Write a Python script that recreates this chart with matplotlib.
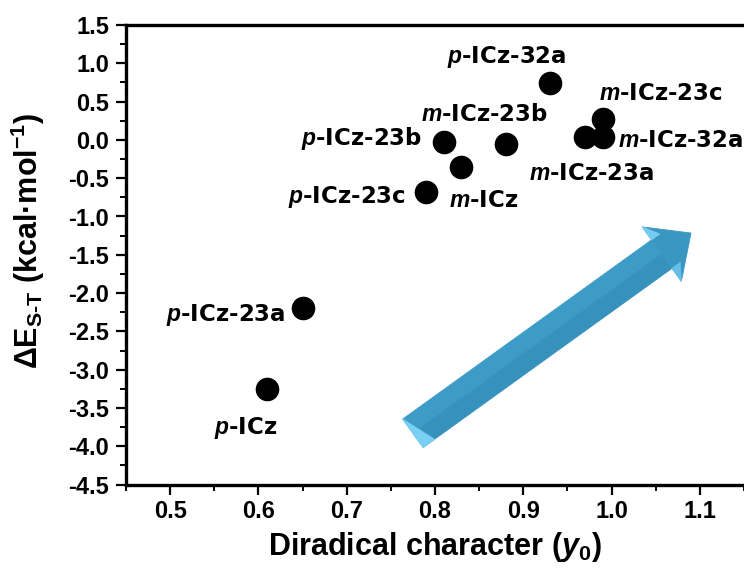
import numpy as np
import matplotlib
matplotlib.use("Agg")
import matplotlib.pyplot as plt
from matplotlib.patches import Polygon
from matplotlib.ticker import MultipleLocator

plt.rcParams.update({
    "font.family": ["Liberation Sans", "DejaVu Sans"],
    "font.weight": "bold",
    "mathtext.fontset": "custom",
    "mathtext.rm": "Liberation Sans:bold",
    "mathtext.bf": "Liberation Sans:bold",
    "mathtext.it": "Liberation Sans:italic:bold",
    "mathtext.bfit": "Liberation Sans:italic:bold",
})

# Diradical character y0 vs singlet-triplet gap
names = ["p-ICz-32a", "m-ICz-23c", "m-ICz-32a", "m-ICz-23a", "m-ICz-23b",
         "p-ICz-23b", "m-ICz", "p-ICz-23c", "p-ICz-23a", "p-ICz"]
y0 = [0.93, 0.99, 0.99, 0.97, 0.88, 0.81, 0.83, 0.79, 0.65, 0.61]
dE_st = [0.74, 0.27, 0.04, 0.04, -0.06, -0.03, -0.36, -0.68, -2.20, -3.25]

# label anchor (x, baseline y) and horizontal alignment
label_x = [0.881, 0.986, 1.007, 0.907, 0.856, 0.785, 0.816, 0.767, 0.631, 0.586]
label_y = [1.01, 0.52, -0.09, -0.52, 0.25, -0.07, -0.88, -0.83, -2.37, -3.84]
label_ha = ["center", "left", "left", "left", "center", "right", "left",
            "right", "right", "center"]

x_ticks = [0.5, 0.6, 0.7, 0.8, 0.9, 1.0, 1.1]
y_ticks = [1.5, 1.0, 0.5, 0.0, -0.5, -1.0, -1.5, -2.0, -2.5, -3.0, -3.5, -4.0, -4.5]

fig = plt.figure(figsize=(7.44, 5.73), dpi=100)
ax = fig.add_axes([126 / 744, 1 - 484.6 / 573, 618 / 744, (484.6 - 25) / 573])
ax.set_xlim(0.45, 1.15)
ax.set_ylim(-4.5, 1.5)

ax.scatter(y0, dE_st, s=17 ** 2, color="black", zorder=3, linewidths=0)

for n, lx, ly, ha in zip(names, label_x, label_y, label_ha):
    prefix, rest = n.split("-", 1)
    ax.text(lx, ly, r"$\mathbfit{%s}$-%s" % (prefix, rest), ha=ha, va="baseline",
            fontsize=16.5, fontweight="bold", family=["DejaVu Sans"], zorder=4)

ax.xaxis.set_minor_locator(MultipleLocator(0.05))
ax.yaxis.set_minor_locator(MultipleLocator(0.25))
ax.set_xticks(x_ticks)
ax.set_yticks(y_ticks)
ax.set_xticklabels([f"{v:.1f}" for v in x_ticks])
ax.set_yticklabels([f"{v:.1f}" for v in y_ticks])

ax.tick_params(which="major", direction="out", length=7, width=1.6,
               labelsize=17)
ax.tick_params(axis="x", which="major", pad=4)
ax.tick_params(axis="y", which="major", pad=5)
ax.tick_params(which="minor", direction="out", length=4, width=1.4)
ax.tick_params(top=False, right=False, which="both")
for lab in ax.get_xticklabels() + ax.get_yticklabels():
    lab.set_fontweight("bold")

for side in ["left", "bottom", "top"]:
    ax.spines[side].set_linewidth(2.4)
ax.spines["right"].set_visible(False)

ax.set_xlabel(r"Diradical character ($\mathbfit{y}_{\mathbf{0}}$)",
              fontsize=22, fontweight="bold", labelpad=5)
ax.set_ylabel("ΔE$_{\\mathbf{S\u2010T}}$ (kcal·mol$^{\\mathbf{\u22121}}$)",
              fontsize=22, fontweight="bold")
ax.yaxis.set_label_coords(-0.128, 0.53)


def block_arrow(ax, start, end, shaft_w, head_w, head_len):
    """Bevelled 3D-style block arrow, sized in pixels, placed in data space."""
    to_px = ax.transData.transform
    to_data = ax.transData.inverted().transform
    p0 = to_px(start)
    p1 = to_px(end)
    d = p1 - p0
    u = d / np.hypot(*d)
    nrm = np.array([-u[1], u[0]])
    back = p1 - u * head_len
    hw, sw = head_w / 2, shaft_w / 2

    faces = [
        ([p0 + nrm * sw, p0, back, back + nrm * sw], "#3c9cc7"),
        ([p0, p0 - nrm * sw, back - nrm * sw, back], "#3791bd"),
        ([back + nrm * hw, back - nrm * hw, p1], "#3a97c2"),
        ([back + nrm * hw, back + nrm * sw, back + nrm * sw + u * 10], "#74cdf1"),
        ([back - nrm * hw, back - nrm * sw, back - nrm * sw + u * 10], "#63bfe6"),
        ([p0 + nrm * sw, p0 - nrm * sw, p0 - nrm * sw + u * 14], "#79d0f3"),
    ]
    for pts, col in faces:
        poly = Polygon(to_data(np.array(pts)), closed=True, facecolor=col,
                       edgecolor=col, linewidth=0.6, zorder=2)
        ax.add_patch(poly)


block_arrow(ax, (0.775, -3.83), (1.090, -1.216), shaft_w=35, head_w=67, head_len=36)

fig.savefig("out.png", dpi=100)
